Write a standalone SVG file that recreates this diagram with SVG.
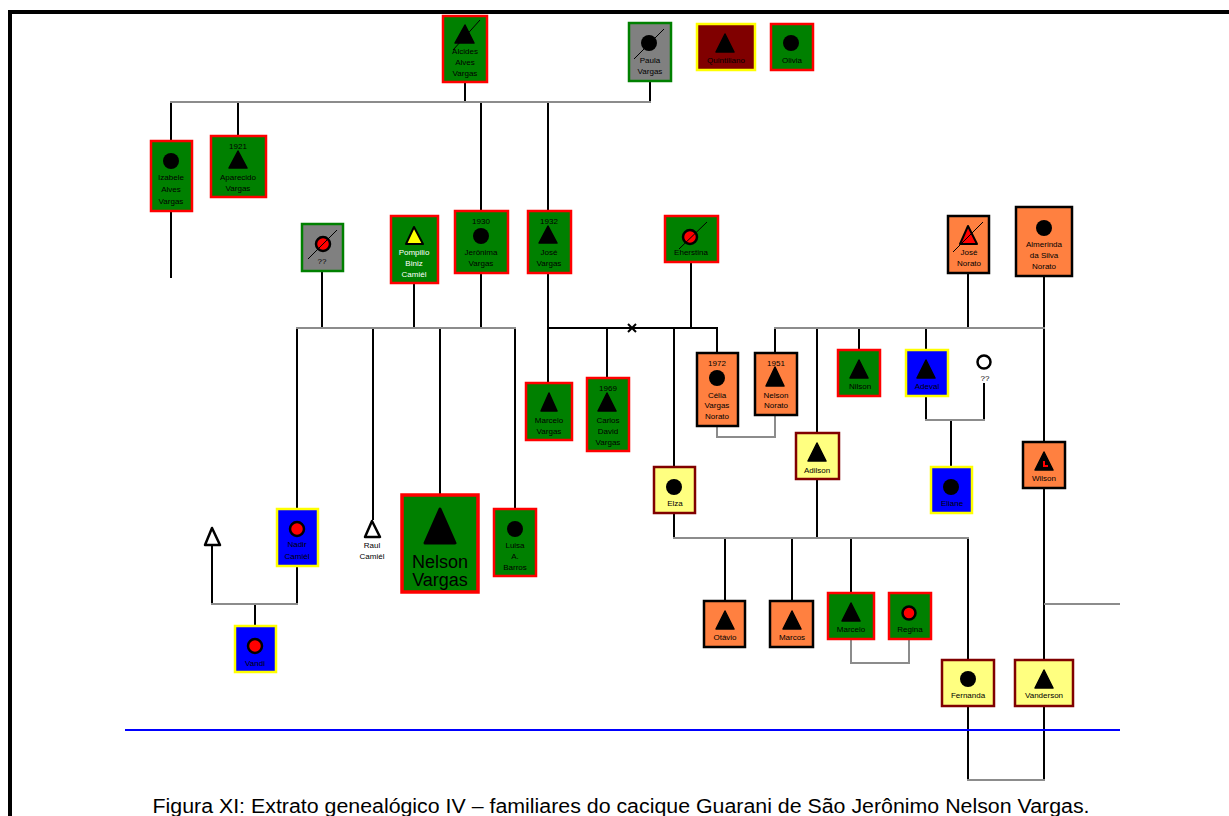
<svg xmlns="http://www.w3.org/2000/svg" width="1229" height="816" viewBox="0 0 1229 816">
  <style>
    text { font-family: "Liberation Sans", Arial, sans-serif; font-size: 8px; text-anchor: middle; fill: #000; }
    .wt { fill: #fff; }
    .gn { fill: #008000; stroke: #ff0000; stroke-width: 2.5; }
    .gy { fill: #808080; stroke: #008000; stroke-width: 2.5; }
    .or { fill: #ff8040; stroke: #000; stroke-width: 2.5; }
    .bl { fill: #0000ff; stroke: #ffff00; stroke-width: 2.5; }
    .ly { fill: #ffff80; stroke: #800000; stroke-width: 2.5; }
    .mr { fill: #800000; stroke: #ffff00; stroke-width: 2.5; }
    .tri { fill: #000; stroke: #000; stroke-width: 1.5; stroke-linejoin: round; }
    .dot { fill: #000; }
    .rdot { fill: #ff0000; stroke: #000; stroke-width: 2.5; }
    .slash { stroke: #000; stroke-width: 1; }
    .k { stroke: #000; stroke-width: 2; fill: none; }
    .s { stroke: #8c8c8c; stroke-width: 2; fill: none; }
  </style>

  <!-- page frame -->
  <g id="frame">
    <line x1="10" y1="12" x2="1229" y2="12" stroke="#000" stroke-width="4"/>
    <line x1="10" y1="10" x2="10" y2="816" stroke="#000" stroke-width="4"/>
  </g>

  <!-- connectors -->
  <g id="connectors">
    <!-- Alcides + Paula -->
    <line class="k" x1="465" y1="83" x2="465" y2="102"/>
    <line class="k" x1="650" y1="81" x2="650" y2="102"/>
    <line class="k" x1="171" y1="102" x2="171" y2="141"/>
    <line class="k" x1="171" y1="211" x2="171" y2="278"/>
    <line class="k" x1="238" y1="102" x2="238" y2="135"/>
    <line class="k" x1="481" y1="102" x2="481" y2="211"/>
    <line class="k" x1="548" y1="102" x2="548" y2="211"/>
    <line class="s" x1="170" y1="102" x2="651" y2="102"/>

    <!-- ?? + Pompilio + Jeronima -->
    <line class="k" x1="322" y1="271" x2="322" y2="328"/>
    <line class="k" x1="414" y1="283" x2="414" y2="328"/>
    <line class="k" x1="481" y1="273" x2="481" y2="328"/>
    <line class="k" x1="297" y1="328" x2="297" y2="509"/>
    <line class="k" x1="373" y1="328" x2="373" y2="520"/>
    <line class="k" x1="440" y1="328" x2="440" y2="495"/>
    <line class="k" x1="515" y1="328" x2="515" y2="509"/>
    <line class="s" x1="296" y1="328" x2="516" y2="328"/>

    <!-- Nadir + partner -> Vandi -->
    <line class="k" x1="297" y1="566" x2="297" y2="604"/>
    <line class="k" x1="212" y1="545" x2="212" y2="604"/>
    <line class="k" x1="255" y1="604" x2="255" y2="626"/>
    <line class="s" x1="211" y1="604" x2="298" y2="604"/>

    <!-- Jose + Eherstina -->
    <line class="k" x1="548" y1="273" x2="548" y2="383"/>
    <polyline class="k" points="548,328 717,328 717,353"/>
    <line class="k" x1="691" y1="262" x2="691" y2="328"/>
    <line class="k" x1="607" y1="328" x2="607" y2="378"/>
    <line class="k" x1="674" y1="328" x2="674" y2="467"/>
    <path d="M628,324 L636,332 M636,324 L628,332" stroke="#000" stroke-width="2"/>

    <!-- Celia + Nelson Norato -->
    <polyline class="s" points="717,426 717,437 775,437 775,415"/>

    <!-- Jose Norato + Almerinda -->
    <line class="k" x1="968" y1="273" x2="968" y2="328"/>
    <line class="k" x1="1044" y1="276" x2="1044" y2="442"/>
    <line class="k" x1="775" y1="328" x2="775" y2="353"/>
    <line class="k" x1="817" y1="328" x2="817" y2="433"/>
    <line class="k" x1="859" y1="328" x2="859" y2="350"/>
    <line class="k" x1="926" y1="328" x2="926" y2="350"/>
    <line class="s" x1="774" y1="328" x2="1045" y2="328"/>

    <!-- Adeval + ?? -> Eliane -->
    <line class="k" x1="926" y1="396" x2="926" y2="420"/>
    <line class="k" x1="984" y1="383" x2="984" y2="420"/>
    <line class="k" x1="951" y1="420" x2="951" y2="467"/>
    <line class="s" x1="925" y1="420" x2="985" y2="420"/>

    <!-- Elza + Adilson -->
    <line class="k" x1="674" y1="513" x2="674" y2="538"/>
    <line class="k" x1="817" y1="479" x2="817" y2="538"/>
    <line class="k" x1="725" y1="538" x2="725" y2="601"/>
    <line class="k" x1="792" y1="538" x2="792" y2="601"/>
    <line class="k" x1="851" y1="538" x2="851" y2="593"/>
    <line class="k" x1="968" y1="538" x2="968" y2="660"/>
    <line class="s" x1="673" y1="538" x2="969" y2="538"/>

    <!-- Marcelo + Regina -->
    <polyline class="s" points="851,639 851,663 909,663 909,639"/>

    <!-- Wilson line and branch -->
    <line class="k" x1="1044" y1="488" x2="1044" y2="660"/>
    <line class="s" x1="1044" y1="604" x2="1120" y2="604"/>

    <!-- Fernanda + Vanderson -->
    <line class="k" x1="968" y1="706" x2="968" y2="780"/>
    <line class="k" x1="1044" y1="706" x2="1044" y2="780"/>
    <line class="s" x1="967" y1="780" x2="1045" y2="780"/>
  </g>

  <!-- generation 1 -->
  <g id="alcides">
    <rect class="gn" x="443" y="16" width="44" height="66"/>
    <path class="tri" d="M465,25 L474,43 L455,43 Z"/>
    <line class="slash" x1="453" y1="50" x2="480" y2="20"/>
    <text x="465" y="54">Alcides</text>
    <text x="465" y="65">Alves</text>
    <text x="465" y="76">Vargas</text>
  </g>
  <g id="paula">
    <rect class="gy" x="629" y="23" width="42" height="58"/>
    <circle class="dot" cx="649" cy="43" r="8"/>
    <line class="slash" x1="634" y1="59" x2="664" y2="29"/>
    <text x="650" y="63">Paula</text>
    <text x="650" y="74">Vargas</text>
  </g>
  <g id="quintiliano">
    <rect class="mr" x="697" y="24" width="58" height="46"/>
    <path class="tri" d="M725,34 L734,52 L716,52 Z"/>
    <text x="726" y="63">Quintiliano</text>
  </g>
  <g id="olivia">
    <rect class="gn" x="771" y="24" width="42" height="46"/>
    <circle class="dot" cx="791" cy="43" r="8"/>
    <text x="792" y="63">Olivia</text>
  </g>

  <!-- generation 2 -->
  <g id="izabele">
    <rect class="gn" x="151" y="141" width="41" height="70"/>
    <circle class="dot" cx="171" cy="161" r="8"/>
    <text x="171" y="180">Izabele</text>
    <text x="171" y="192">Alves</text>
    <text x="171" y="204">Vargas</text>
  </g>
  <g id="aparecido">
    <rect class="gn" x="211" y="136" width="55" height="61"/>
    <text x="238" y="149">1921</text>
    <path class="tri" d="M238,151 L247,168 L229,168 Z"/>
    <text x="238" y="180">Aparecido</text>
    <text x="238" y="191">Vargas</text>
  </g>
  <g id="unknown-1">
    <rect class="gy" x="302" y="224" width="41" height="47"/>
    <circle class="rdot" cx="323" cy="244" r="7"/>
    <line class="slash" x1="308" y1="259" x2="337" y2="230"/>
    <text x="322" y="264">??</text>
  </g>
  <g id="pompilio">
    <rect class="gn" x="391" y="216" width="47" height="67"/>
    <path d="M414,227 L423,244 L406,244 Z" fill="#ffff00" stroke="#000" stroke-width="2" stroke-linejoin="round"/>
    <text class="wt" x="414" y="255">Pompilio</text>
    <text class="wt" x="414" y="266">Biniz</text>
    <text class="wt" x="414" y="277">Camiél</text>
  </g>
  <g id="jeronima">
    <rect class="gn" x="455" y="211" width="53" height="62"/>
    <text x="481" y="224">1930</text>
    <circle class="dot" cx="481" cy="236" r="8"/>
    <text x="481" y="255">Jerônima</text>
    <text x="481" y="266">Vargas</text>
  </g>
  <g id="jose-vargas">
    <rect class="gn" x="528" y="211" width="43" height="62"/>
    <text x="549" y="224">1932</text>
    <path class="tri" d="M548,226 L557,243 L539,243 Z"/>
    <text x="549" y="255">José</text>
    <text x="549" y="266">Vargas</text>
  </g>
  <g id="eherstina">
    <rect class="gn" x="665" y="216" width="53" height="46"/>
    <circle class="rdot" cx="690" cy="237" r="7"/>
    <line class="slash" x1="679" y1="249" x2="707" y2="222"/>
    <text x="691" y="255">Eherstina</text>
  </g>
  <g id="jose-norato">
    <rect class="or" x="948" y="216" width="41" height="57"/>
    <path d="M968,226 L977,244 L960,244 Z" fill="#ff0000" stroke="#000" stroke-width="2" stroke-linejoin="round"/>
    <line class="slash" x1="953" y1="252" x2="983" y2="222"/>
    <text x="969" y="255">José</text>
    <text x="969" y="266">Norato</text>
  </g>
  <g id="almerinda">
    <rect class="or" x="1016" y="207" width="56" height="69"/>
    <circle class="dot" cx="1044" cy="228" r="8"/>
    <text x="1044" y="247">Almerinda</text>
    <text x="1044" y="258">da Silva</text>
    <text x="1044" y="269">Norato</text>
  </g>

  <!-- generation 3 -->
  <g id="nadir">
    <rect class="bl" x="277" y="509" width="41" height="57"/>
    <circle class="rdot" cx="297" cy="529" r="7"/>
    <text x="297" y="547">Nadir</text>
    <text x="297" y="559">Camiél</text>
  </g>
  <g id="partner-nadir">
    <path d="M212,528 L220,545 L205,545 Z" fill="#fff" stroke="#000" stroke-width="2.5" stroke-linejoin="round"/>
  </g>
  <g id="raul">
    <path d="M372,521 L380,537 L365,537 Z" fill="#fff" stroke="#000" stroke-width="2.5" stroke-linejoin="round"/>
    <text x="372" y="548">Raul</text>
    <text x="372" y="559">Camiél</text>
  </g>
  <g id="nelson-vargas">
    <rect x="402" y="495" width="76" height="97" fill="#008000" stroke="#ff0000" stroke-width="3.5"/>
    <path d="M440,509 L455,543 L425,543 Z" fill="#000" stroke="#000" stroke-width="3" stroke-linejoin="round"/>
    <text x="440" y="568" style="font-size:18px">Nelson</text>
    <text x="440" y="586" style="font-size:18px">Vargas</text>
  </g>
  <g id="luisa">
    <rect class="gn" x="494" y="509" width="42" height="67"/>
    <circle class="dot" cx="515" cy="529" r="8"/>
    <text x="515" y="548">Luisa</text>
    <text x="515" y="559">A.</text>
    <text x="515" y="570">Barros</text>
  </g>
  <g id="marcelo-vargas">
    <rect class="gn" x="526" y="383" width="46" height="57"/>
    <path class="tri" d="M549,393 L557,411 L541,411 Z"/>
    <text x="549" y="423">Marcelo</text>
    <text x="549" y="434">Vargas</text>
  </g>
  <g id="carlos">
    <rect class="gn" x="587" y="378" width="42" height="73"/>
    <text x="608" y="391">1969</text>
    <path class="tri" d="M607,393 L616,411 L598,411 Z"/>
    <text x="608" y="423">Carlos</text>
    <text x="608" y="434">David</text>
    <text x="608" y="445">Vargas</text>
  </g>
  <g id="celia">
    <rect class="or" x="697" y="353" width="41" height="73"/>
    <text x="717" y="366">1972</text>
    <circle class="dot" cx="717" cy="378" r="8"/>
    <text x="717" y="398">Célia</text>
    <text x="717" y="408">Vargas</text>
    <text x="717" y="419">Norato</text>
  </g>
  <g id="nelson-norato">
    <rect class="or" x="755" y="353" width="42" height="62"/>
    <text x="776" y="366">1951</text>
    <path class="tri" d="M775,367 L784,386 L766,386 Z"/>
    <text x="776" y="398">Nelson</text>
    <text x="776" y="408">Norato</text>
  </g>
  <g id="nilson">
    <rect class="gn" x="838" y="350" width="42" height="46"/>
    <path class="tri" d="M859,360 L868,378 L850,378 Z"/>
    <text x="860" y="389">Nilson</text>
  </g>
  <g id="adeval">
    <rect class="bl" x="906" y="350" width="42" height="46"/>
    <path class="tri" d="M926,360 L935,378 L917,378 Z"/>
    <text x="927" y="389">Adeval</text>
  </g>
  <g id="unknown-2">
    <circle cx="984" cy="362" r="6.5" fill="#fff" stroke="#000" stroke-width="2.5"/>
    <text x="985" y="381">??</text>
  </g>
  <g id="wilson">
    <rect class="or" x="1023" y="442" width="42" height="46"/>
    <path class="tri" d="M1044,452 L1053,470 L1035,470 Z"/>
    <path d="M1043,461 L1045,461 L1045,465 L1048,465 L1048,467 L1043,467 Z" fill="#ff0000"/>
    <text x="1044" y="481">Wilson</text>
  </g>
  <g id="elza">
    <rect class="ly" x="654" y="467" width="41" height="46"/>
    <circle class="dot" cx="674" cy="487" r="8"/>
    <text x="675" y="506">Elza</text>
  </g>
  <g id="adilson">
    <rect class="ly" x="796" y="433" width="43" height="46"/>
    <path class="tri" d="M817,443 L826,461 L808,461 Z"/>
    <text x="817" y="473">Adilson</text>
  </g>
  <g id="eliane">
    <rect class="bl" x="931" y="467" width="41" height="46"/>
    <circle class="dot" cx="951" cy="487" r="8"/>
    <text x="952" y="506">Eliane</text>
  </g>

  <!-- generation 4 -->
  <g id="vandi">
    <rect class="bl" x="235" y="626" width="41" height="46"/>
    <circle class="rdot" cx="255" cy="646" r="7"/>
    <text x="255" y="666">Vandi</text>
  </g>
  <g id="otavio">
    <rect class="or" x="704" y="601" width="41" height="46"/>
    <path class="tri" d="M725,611 L734,629 L716,629 Z"/>
    <text x="725" y="640">Otávio</text>
  </g>
  <g id="marcos">
    <rect class="or" x="770" y="601" width="43" height="46"/>
    <path class="tri" d="M792,611 L801,629 L783,629 Z"/>
    <text x="792" y="640">Marcos</text>
  </g>
  <g id="marcelo">
    <rect class="gn" x="828" y="593" width="46" height="46"/>
    <path class="tri" d="M851,603 L860,621 L842,621 Z"/>
    <text x="851" y="632">Marcelo</text>
  </g>
  <g id="regina">
    <rect class="gn" x="889" y="593" width="42" height="46"/>
    <circle class="rdot" cx="909" cy="613" r="6.5"/>
    <text x="910" y="632">Regina</text>
  </g>
  <g id="fernanda">
    <rect class="ly" x="942" y="660" width="52" height="46"/>
    <circle class="dot" cx="968" cy="679" r="8"/>
    <text x="968" y="698">Fernanda</text>
  </g>
  <g id="vanderson">
    <rect class="ly" x="1015" y="660" width="58" height="46"/>
    <path class="tri" d="M1044,670 L1053,688 L1035,688 Z"/>
    <text x="1044" y="698">Vanderson</text>
  </g>

  <!-- blue rule and caption -->
  <line x1="125" y1="730" x2="1120" y2="730" stroke="#0000ff" stroke-width="2"/>
  <text x="621" y="813" textLength="937" lengthAdjust="spacingAndGlyphs" style="font-size:20px">Figura XI: Extrato genealógico IV – familiares do cacique Guarani de São Jerônimo Nelson Vargas.</text>
</svg>
